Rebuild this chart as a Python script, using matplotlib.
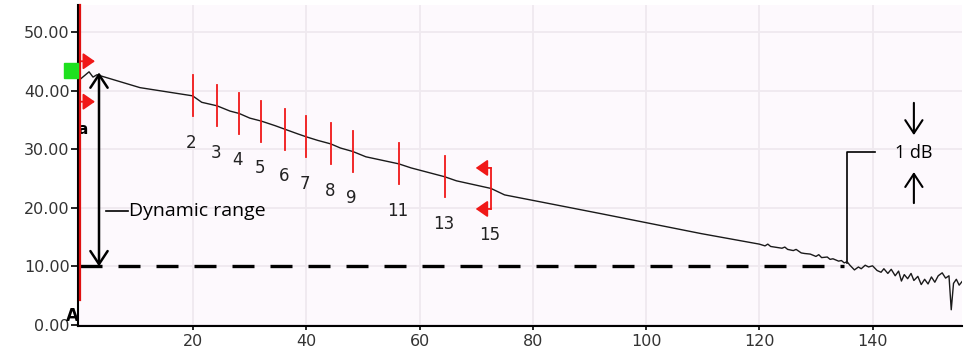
import numpy as np
import matplotlib.pyplot as plt
from matplotlib.patches import Rectangle

# OTDR trace (distance, dB)
trace_x = [0, 1.6, 2.3, 3.0, 10.6, 19.9, 21.5, 24.2, 26.5, 28.1, 30.0, 32.0, 34.5, 36.2,
           38.5, 40.0, 42.0, 44.3, 46.0, 48.2, 50.5, 56.3, 58.5, 64.4, 66.5, 72.6, 75.0,
           81.4, 92.0, 109.7, 120.0, 121.0, 121.5, 122.0, 124.0, 124.5, 125.0, 126.0, 126.5,
           127.4, 128.0, 129.0, 130.0, 130.5, 131.0, 132.0, 132.5, 133.0, 134.0, 134.5,
           135.0, 135.5, 136.0, 136.8, 137.5, 138.0, 138.7, 139.3, 140.0, 140.8, 141.5,
           142.0, 142.7, 143.3, 144.0, 144.6, 145.1, 145.6, 146.2, 146.8, 147.3, 148.0,
           148.6, 149.2, 149.8, 150.4, 151.0, 151.6, 152.3, 152.9, 153.5, 153.9, 154.3,
           154.8, 155.3, 155.8]
trace_y = [41.9, 43.2, 42.3, 42.7, 40.5, 39.1, 38.0, 37.4, 36.5, 36.1, 35.3, 34.8, 34.0, 33.4,
           32.6, 32.1, 31.5, 30.9, 30.2, 29.6, 28.7, 27.5, 26.8, 25.3, 24.6, 23.3, 22.2,
           21.0, 19.0, 15.6, 13.8, 13.5, 13.8, 13.4, 13.1, 13.3, 12.9, 12.7, 12.9,
           12.3, 12.2, 12.1, 11.7, 12.0, 11.5, 11.6, 11.2, 11.3, 10.9, 11.0,
           10.6, 10.8, 10.2, 9.4, 9.9, 9.6, 10.2, 9.9, 10.1, 9.3, 9.0,
           9.6, 8.8, 9.5, 8.4, 9.2, 7.5, 8.6, 7.9, 8.8, 7.6, 8.3,
           6.9, 7.8, 7.0, 8.2, 7.3, 8.4, 8.9, 8.0, 8.4, 2.6, 7.1,
           7.8, 6.8, 7.4]

# events
event_x = [19.9, 24.2, 28.1, 32.0, 36.2, 40.0, 44.3, 48.2, 56.3, 64.4, 72.6]
event_y = [39.1, 37.4, 36.1, 34.8, 33.4, 32.1, 30.9, 29.6, 27.5, 25.3, 23.3]
event_lbl = ['2', '3', '4', '5', '6', '7', '8', '9', '11', '13', '15']

noise_floor = 10.0
floor_end = 135.0
y_ticks = [0, 10, 20, 30, 40, 50]
x_ticks = [20, 40, 60, 80, 100, 120, 140]

red = '#f01818'
fig = plt.figure(figsize=(9.68, 3.52), dpi=100)
fig.patch.set_facecolor('white')
ax = fig.add_axes([78/968, 26/352, 884/968, 321/352])
ax.set_facecolor('#fdf9fd')
ax.set_xlim(-0.35, 155.8)
ax.set_ylim(-0.17, 54.6)

ax.set_yticks(y_ticks)
ax.set_yticklabels(['%.2f' % v for v in y_ticks])
ax.set_xticks(x_ticks)
ax.tick_params(axis='y', length=5, width=1.2, pad=1, labelsize=11.5, labelcolor='#333333')
ax.tick_params(axis='x', length=3, width=1.2, pad=3, labelsize=11.5, labelcolor='#333333')
ax.grid(True, color='#efe9ef', lw=1.3)
ax.set_axisbelow(True)
for s in ['top', 'right']:
    ax.spines[s].set_visible(False)
for s in ['left', 'bottom']:
    ax.spines[s].set_linewidth(1.5)

# trace
ax.plot(trace_x, trace_y, color='#1a1a1a', lw=1.0, zorder=3)

# noise floor dashed line
ax.plot([0, floor_end], [noise_floor, noise_floor], color='black', lw=2.4,
        linestyle=(0, (6.6, 4.8)), zorder=2)

# red cursor line at 0
ax.plot([0, 0], [4.3, 54.6], color='#e01010', lw=1.6, clip_on=False, zorder=4)

# event markers and labels
for ex, ey, lb in zip(event_x[:-1], event_y[:-1], event_lbl[:-1]):
    ax.plot([ex, ex], [ey - 3.5, ey + 3.5], color=red, lw=1.3, zorder=4)
for ex, ey, lb in zip(event_x, event_y, event_lbl):
    ax.text(ex - 0.2, ey - 8.0, lb, ha='center', va='center', fontsize=12, color='#222222')

# end bracket at last event
ex, ey = event_x[-1], event_y[-1]
ax.plot([ex, ex], [ey - 3.5, ey + 3.5], color=red, lw=1.3, zorder=4)
for yy in [ey + 3.5, ey - 3.5]:
    ax.annotate('', xy=(ex - 2.7, yy), xytext=(ex, yy),
                arrowprops=dict(arrowstyle='-|>,head_length=0.72,head_width=0.5',
                                color=red, lw=1.3, shrinkA=0, shrinkB=0))

# start markers
for yy in [45.0, 38.1]:
    ax.annotate('', xy=(2.65, yy), xytext=(0, yy),
                arrowprops=dict(arrowstyle='-|>,head_length=0.72,head_width=0.5',
                                color=red, lw=1.3, shrinkA=0, shrinkB=0))
ax.add_patch(Rectangle((-2.83, 42.2), 2.48, 2.56, color='#1ee01e', clip_on=False, zorder=5))
ax.text(0.45, 33.4, 'a', ha='center', va='center', fontsize=11, fontweight='bold', color='black')
ax.text(-1.4, 1.6, 'A', ha='center', va='center', fontsize=12, fontweight='bold',
        color='black', clip_on=False)

# dynamic range arrow
ax.annotate('', xy=(3.36, 43.1), xytext=(3.36, noise_floor),
            arrowprops=dict(arrowstyle='<->,head_length=0.47,head_width=0.31',
                            color='black', lw=1.8, shrinkA=0, shrinkB=0, mutation_scale=20))
ax.plot([4.6, 8.5], [19.45, 19.45], color='black', lw=1.2)
ax.text(8.6, 19.45, 'Dynamic range', ha='left', va='center', fontsize=14,
        family='Open Sans', color='black')

# 1 dB callout
ax.plot([135.4, 135.4, 140.4], [10.6, 29.5, 29.5], color='black', lw=1.2)
ax.text(147.3, 29.4, '1 dB', ha='center', va='center', fontsize=13,
        family='Open Sans', color='black')
ax.annotate('', xy=(147.3, 32.4), xytext=(147.3, 37.9),
            arrowprops=dict(arrowstyle='->,head_length=0.47,head_width=0.31',
                            color='black', lw=1.5, shrinkA=0, shrinkB=0, mutation_scale=20))
ax.annotate('', xy=(147.3, 26.1), xytext=(147.3, 20.8),
            arrowprops=dict(arrowstyle='->,head_length=0.47,head_width=0.31',
                            color='black', lw=1.5, shrinkA=0, shrinkB=0, mutation_scale=20))

fig.savefig('out.png', dpi=100)
